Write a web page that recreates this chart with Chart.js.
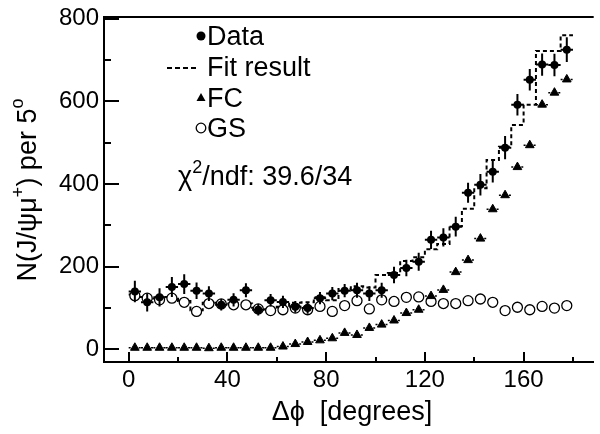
<!DOCTYPE html>
<html><head><meta charset="utf-8">
<script src="https://cdn.jsdelivr.net/npm/chart.js@4/dist/chart.umd.min.js"></script>
<style>html,body{margin:0;padding:0;background:#fff;}</style>
</head><body>
<canvas id="c" width="600" height="434"></canvas>
<script>
// ---- data ----
const binCenters = [2.5,7.5,12.5,17.5,22.5,27.5,32.5,37.5,42.5,47.5,52.5,57.5,62.5,67.5,72.5,77.5,82.5,87.5,92.5,97.5,102.5,107.5,112.5,117.5,122.5,127.5,132.5,137.5,142.5,147.5,152.5,157.5,162.5,167.5,172.5,177.5];
const binHalfWidth = 2.5;
const dataValues = [140,114,126,151,158,142,135,108,120,143,96,119,115,103,100,124,135,142,143,135,143,180,197,212,265,271,297,379,398,430,488,592,652,689,688,725];
const dataErrors = [26,22,22,24,24,20,18,14,16,17,14,15,15,14,14,15,16,16,18,18,18,20,20,22,22,22,24,24,26,26,28,26,26,27,27,30];
const fitValues = [133,127,123,127,117,95,113,113,111,111,101,97,103,113,114,126,119,146,153,150,180,185,214,223,242,255,298,340,390,458,490,543,592,722,722,760];
const fcValues = [4,4,4,4,4,4,3,4,4,4,4,4,7,13,18,22,27,40,35,52,60,70,88,96,129,144,187,216,268,339,373,441,494,592,621,653];
const gsValues = [130,124,120,124,114,92,111,110,108,108,98,94,96,100,96,104,92,106,118,98,120,116,126,127,116,111,111,118,122,114,94,102,96,104,100,106];
const xTickValues = [0,20,40,60,80,100,120,140,160,180];
const xTickLabels = [0,40,80,120,160];
const yTickValues = [0,100,200,300,400,500,600,700,800];
const yTickLabels = [0,200,400,600,800];
const legendLabels = ['Data','Fit result','FC','GS'];
const chiText = '/ndf: 39.6/34';

const FONT = "'Liberation Sans', Arial, Helvetica, sans-serif";

// ---- derived point lists ----
const fitPts = binCenters.map((c,i)=>({x:c-binHalfWidth, y:fitValues[i]}));
fitPts.push({x:binCenters[binCenters.length-1]+binHalfWidth, y:fitValues[fitValues.length-1]});
const fcBinPts = [];
binCenters.forEach((c,i)=>{
  fcBinPts.push({x:c-binHalfWidth, y:fcValues[i]});
  fcBinPts.push({x:c+binHalfWidth, y:fcValues[i]});
  fcBinPts.push({x:c+binHalfWidth, y:null});
});
const pts = vals => binCenters.map((c,i)=>({x:c, y:vals[i]}));

const framePlugin = {
  id:'frame',
  afterDraw(chart){
    const ctx = chart.ctx, a = chart.chartArea, xs = chart.scales.x, ys = chart.scales.y;
    ctx.save();
    ctx.strokeStyle = '#000';
    ctx.lineWidth = 2;
    ctx.beginPath(); ctx.moveTo(a.left-1, a.top); ctx.lineTo(a.right, a.top); ctx.stroke();
    xTickValues.forEach(v=>{
      const px = Math.round(xs.getPixelForValue(v));
      const len = xTickLabels.includes(v) ? 10 : 5;
      ctx.beginPath(); ctx.moveTo(px, a.bottom); ctx.lineTo(px, a.bottom-len); ctx.stroke();
    });
    yTickValues.forEach(v=>{
      const py = Math.round(ys.getPixelForValue(v));
      const len = yTickLabels.includes(v) ? 15 : 7;
      ctx.beginPath(); ctx.moveTo(a.left, py); ctx.lineTo(a.left+len, py); ctx.stroke();
    });
    ctx.restore();
  }
};

const errPlugin = {
  id:'errbars',
  afterDatasetsDraw(chart){
    const ctx = chart.ctx, xs = chart.scales.x, ys = chart.scales.y;
    ctx.save();
    ctx.strokeStyle = '#000';
    ctx.lineWidth = 2;
    binCenters.forEach((c,i)=>{
      const px = xs.getPixelForValue(c);
      ctx.beginPath();
      ctx.moveTo(px, ys.getPixelForValue(dataValues[i]-dataErrors[i]));
      ctx.lineTo(px, ys.getPixelForValue(dataValues[i]+dataErrors[i]));
      const py = ys.getPixelForValue(dataValues[i]);
      ctx.moveTo(xs.getPixelForValue(c-binHalfWidth), py);
      ctx.lineTo(xs.getPixelForValue(c+binHalfWidth), py);
      ctx.stroke();
      ctx.fillStyle = '#000';
      ctx.beginPath(); ctx.arc(px, py, 4, 0, Math.PI*2); ctx.fill();
    });
    ctx.restore();
  }
};

const textPlugin = {
  id:'texts',
  afterDraw(chart){
    const ctx = chart.ctx;
    ctx.save();
    ctx.fillStyle = '#000'; ctx.strokeStyle = '#000';
    const f = s => s + 'px ' + FONT;
    ctx.font = f(27); ctx.textBaseline = 'alphabetic'; ctx.textAlign = 'left';
    const tx = 207, mx = 201;
    const rows = [45, 76, 107, 137];
    legendLabels.forEach((t,i)=> ctx.fillText(t, tx, rows[i]));
    ctx.beginPath(); ctx.arc(mx, rows[0]-9, 4.5, 0, Math.PI*2); ctx.fill();
    ctx.lineWidth = 2; ctx.setLineDash([5,3]);
    ctx.beginPath(); ctx.moveTo(167, rows[1]-8); ctx.lineTo(199, rows[1]-8); ctx.stroke();
    ctx.setLineDash([]);
    ctx.beginPath(); ctx.moveTo(mx, rows[2]-14); ctx.lineTo(mx+4.5, rows[2]-6); ctx.lineTo(mx-4.5, rows[2]-6); ctx.closePath(); ctx.fill();
    ctx.lineWidth = 1.3;
    ctx.beginPath(); ctx.arc(mx, rows[3]-9, 4.8, 0, Math.PI*2); ctx.stroke();
    let x = 178; const by = 185;
    ctx.font = f(27); ctx.fillText('χ', x, by); x += ctx.measureText('χ').width;
    ctx.font = f(18); ctx.fillText('2', x, by-12); x += ctx.measureText('2').width;
    ctx.font = f(27); ctx.fillText(chiText, x, by);
    ctx.font = f(27); ctx.textAlign = 'center';
    ctx.fillText('Δϕ  [degrees]', 352, 420);
    ctx.translate(36, 190); ctx.rotate(-Math.PI/2);
    const parts = [['N(J/ψμ',27,0],['+',18,-12],[') per 5',27,0],['o',18,-13]];
    let total = 0;
    parts.forEach(p=>{ ctx.font = f(p[1]); total += ctx.measureText(p[0]).width; });
    let cx = -total/2; ctx.textAlign = 'left';
    parts.forEach(p=>{ ctx.font = f(p[1]); ctx.fillText(p[0], cx, p[2]); cx += ctx.measureText(p[0]).width; });
    ctx.restore();
  }
};

new Chart(document.getElementById('c'), {
  type:'scatter',
  data:{ datasets:[
    { label:'Fit result', data:fitPts, showLine:true, stepped:true, borderColor:'#000', borderWidth:2, borderDash:[4,3], pointRadius:0, fill:false, order:5 },
    { label:'FC bins', data:fcBinPts, showLine:true, spanGaps:false, borderColor:'#000', borderWidth:1.5, borderDash:[2,3], pointRadius:0, fill:false, order:4 },
    { label:'GS', data:pts(gsValues), pointStyle:'circle', pointRadius:5, backgroundColor:'#fff', borderColor:'#000', borderWidth:1.3, order:3 },
    { label:'FC', data:pts(fcValues), pointStyle:'triangle', pointRadius:5, backgroundColor:'#000', borderColor:'#000', borderWidth:1, order:2 }
  ]},
  options:{
    responsive:false, animation:false, devicePixelRatio:1,
    layout:{ padding:{ top:13, right:0, bottom:0, left:0 } },
    plugins:{ legend:{display:false}, tooltip:{enabled:false} },
    scales:{
      x:{ type:'linear', min:-10, max:188.4,
          afterFit(s){ s.height = 72; },
          afterBuildTicks(s){ s.ticks = xTickLabels.map(v=>({value:v})); },
          ticks:{ font:{family:FONT, size:24, lineHeight:1}, color:'#000', padding:6, maxRotation:0, autoSkip:false },
          grid:{ display:true, drawOnChartArea:false, drawTicks:false },
          border:{ display:true, color:'#000', width:2 } },
      y:{ type:'linear', min:-30.4, max:804,
          afterFit(s){ s.width = 104; },
          afterBuildTicks(s){ s.ticks = yTickLabels.map(v=>({value:v})); },
          ticks:{ font:{family:FONT, size:24, lineHeight:1}, color:'#000', padding:5, autoSkip:false },
          grid:{ display:true, drawOnChartArea:false, drawTicks:false },
          border:{ display:true, color:'#000', width:2 } }
    }
  },
  plugins:[errPlugin, framePlugin, textPlugin]
});
</script>
</body></html>
